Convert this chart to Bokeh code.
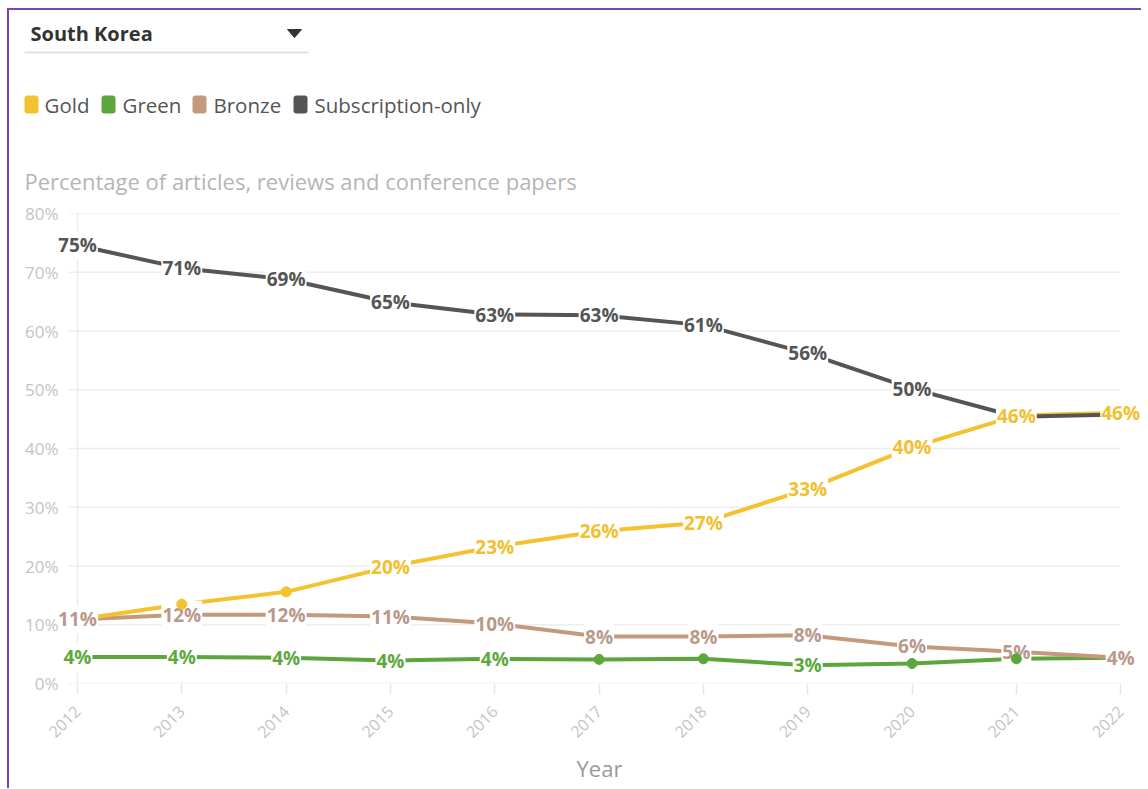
import math
from bokeh.plotting import figure
from bokeh.models import Range1d, FixedTicker, PrintfTickFormatter, Span, Label
from bokeh.layouts import column
from bokeh.embed import file_html
from bokeh.resources import INLINE
from bokeh.core.properties import value

# ---------------- data ----------------
country = "South Korea"
subtitle = "Percentage of articles, reviews and conference papers"
x_title = "Year"
years = [2012, 2013, 2014, 2015, 2016, 2017, 2018, 2019, 2020, 2021, 2022]
gold = [10.9, 13.5, 15.6, 19.9, 23.3, 25.9, 27.4, 33.1, 40.2, 45.6, 46.1]
green = [4.5, 4.5, 4.4, 3.9, 4.2, 4.1, 4.2, 3.1, 3.4, 4.2, 4.4]
bronze = [10.9, 11.7, 11.7, 11.4, 10.2, 8.0, 8.0, 8.2, 6.3, 5.4, 4.4]
subscription = [74.6, 70.7, 68.8, 64.9, 62.8, 62.7, 61.0, 56.2, 50.2, 45.4, 45.8]
series_names = ["Gold", "Green", "Bronze", "Subscription-only"]
series_values = [gold, green, bronze, subscription]
# years whose value label is shown / whose point shows a dot
gold_label_years = [2015, 2016, 2017, 2018, 2019, 2020, 2021, 2022]
green_label_years = [2012, 2013, 2014, 2015, 2016, 2019]
bronze_label_years = years
subscription_label_years = [2012, 2013, 2014, 2015, 2016, 2017, 2018, 2019, 2020]
label_years = [gold_label_years, green_label_years, bronze_label_years, subscription_label_years]
gold_dot_years = [2013, 2014]
green_dot_years = [2017, 2018, 2020, 2021]
dot_years = [gold_dot_years, green_dot_years, [], []]
y_ticks = [0, 10, 20, 30, 40, 50, 60, 70, 80]

# ---------------- style / layout ----------------
FONT = "Open Sans"
line_colors = ["#F4C12F", "#5CA63C", "#C49A7E", "#555555"]
label_colors = ["#F2C02E", "#5EA83E", "#B8998A", "#555555"]
draw_order = [1, 2, 0, 3]      # green, bronze, gold, subscription-only
label_order = [0, 1, 3, 2]
W = 1132
HEAD_H = 190
MAIN_H = 588

# ---------------- header figure (pixel coordinates) ----------------
h = figure(width=W, height=HEAD_H, x_range=Range1d(0, W), y_range=Range1d(HEAD_H, 0),
           output_backend="svg", toolbar_location=None,
           x_axis_location=None, y_axis_location=None,
           min_border=0, min_border_left=0, min_border_right=0,
           min_border_top=0, min_border_bottom=0)
h.frame_align = False
h.outline_line_color = None
h.xgrid.visible = False
h.ygrid.visible = False

h.text(x=[21], y=[23], text=[country], text_font=value(FONT), text_font_style="bold",
       text_font_size="20px", text_color="#333333", text_baseline="middle", text_align="left")
h.patch(x=[278, 292, 285], y=[19, 19, 27], fill_color="#333333", line_color="#333333")
h.segment(x0=[15], y0=[42], x1=[299], y1=[42], line_color="#E2E2E2", line_width=2)

sq_left = [15, 92, 183, 284]
txt_left = [35, 113, 204, 305]
h.quad(left=sq_left, right=[s + 14 for s in sq_left], top=[85] * 4, bottom=[103] * 4,
       fill_color=line_colors, line_color=None, border_radius=3)
h.text(x=txt_left, y=[94] * 4, text=series_names, text_font=value(FONT),
       text_font_size="20.5px", text_color="#555555", text_baseline="middle", text_align="left")
h.text(x=[15], y=[170], text=[subtitle], text_font=value(FONT), text_font_size="22px",
       text_color="#B5B5B5", text_baseline="middle", text_align="left")

# ---------------- main figure ----------------
X0, X1 = 2011.818, 2022.19      # frame reaches a little past the first / last year
p = figure(width=W, height=MAIN_H, x_range=Range1d(X0, X1), y_range=Range1d(0, 80),
           output_backend="svg", toolbar_location=None,
           min_border_left=49, min_border_right=1, min_border_top=13,
           min_border_bottom=MAIN_H - 483)
p.frame_align = False
p.outline_line_color = None
p.xgrid.visible = False
p.ygrid.visible = False

# horizontal grid from just before the first year to the last year
p.segment(x0=[2011.914] * len(y_ticks), x1=[years[-1]] * len(y_ticks), y0=y_ticks, y1=y_ticks,
          line_color="#EEEEEE", line_width=1.5)
p.add_layout(Span(location=years[0], dimension="height", line_color="#EBEBEB", line_width=1.5))

p.xaxis.ticker = FixedTicker(ticks=years)
p.yaxis.ticker = FixedTicker(ticks=y_ticks)
p.yaxis.formatter = PrintfTickFormatter(format="%d%%")
for ax in (p.xaxis[0], p.yaxis[0]):
    ax.axis_line_color = None
    ax.major_label_text_font = FONT
    ax.major_label_text_color = "#C4C4C4"
    ax.minor_tick_line_color = None
p.yaxis.major_tick_line_color = None
p.yaxis.major_label_text_font_size = "17px"
p.yaxis.major_label_standoff = -6
p.xaxis.major_tick_line_color = "#E6E6E6"
p.xaxis.major_tick_line_width = 1.5
p.xaxis.major_tick_out = 11
p.xaxis.major_tick_in = 0
p.xaxis.major_label_text_font_size = "16px"
p.xaxis.major_label_orientation = math.pi / 4
p.xaxis.major_label_standoff = 14
p.xaxis.axis_label = x_title
p.xaxis.axis_label_text_font = FONT
p.xaxis.axis_label_text_font_style = "normal"
p.xaxis.axis_label_text_font_size = "22px"
p.xaxis.axis_label_text_color = "#9A9A9A"
p.xaxis.axis_label_standoff = 7

for i in draw_order:
    p.line(years, series_values[i], line_color=line_colors[i], line_width=4,
           line_join="round", line_cap="round")

for i in label_order:
    for y, v in zip(years, series_values[i]):
        if y in label_years[i]:
            p.add_layout(Label(x=y, y=v, text=f"{round(v)}%", text_align="center",
                               text_baseline="middle", text_font=FONT,
                               text_font_style="bold", text_font_size="19px",
                               text_color=label_colors[i], background_fill_color="white",
                               padding=1))

for i in draw_order:
    dxs = [y for y in years if y in dot_years[i]]
    dys = [v for y, v in zip(years, series_values[i]) if y in dot_years[i]]
    if dxs:
        p.scatter(dxs, dys, size=10, fill_color=line_colors[i], line_color=line_colors[i],
                  level="overlay")

layout = column(h, p, spacing=0,
                styles={"margin-left": "7px", "margin-top": "8px",
                        "border-top": "2px solid #7B42BA", "border-left": "2px solid #7B42BA"})

open("out.html", "w").write(file_html(layout, INLINE))
